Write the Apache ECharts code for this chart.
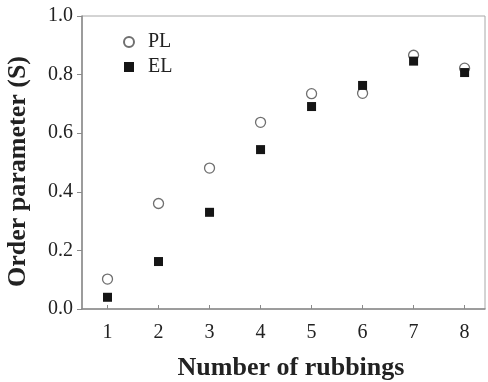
<!DOCTYPE html>
<html>
<head>
<meta charset="utf-8">
<script src="https://cdn.jsdelivr.net/npm/echarts@6/dist/echarts.min.js"></script>
<style>
  html, body { margin: 0; padding: 0; background: #fff; }
  #chart { width: 488px; height: 382px; }
</style>
</head>
<body>
<div id="chart"></div>
<script>
// Order parameter S versus number of rubbings, photoluminescence (PL) and electroluminescence (EL)
const rubbings = [1, 2, 3, 4, 5, 6, 7, 8];
const plValues = [0.102, 0.36, 0.481, 0.637, 0.735, 0.736, 0.866, 0.822];
const elValues = [0.040, 0.162, 0.330, 0.544, 0.691, 0.763, 0.846, 0.807];
const yTicks = [0, 0.2, 0.4, 0.6, 0.8, 1.0];

const serif = '"Liberation Serif", "Times New Roman", serif';
const axisGray = '#8a8a8a';

const chart = echarts.init(document.getElementById('chart'), null, { renderer: 'canvas' });

chart.setOption({
  animation: false,
  backgroundColor: '#fff',
  grid: {
    left: 82, right: 3, top: 16, bottom: 73,
    outerBoundsMode: 'none',
    containLabel: false,
    show: true, borderColor: '#a8a8a8', borderWidth: 1, backgroundColor: 'transparent'
  },
  legend: {
    orient: 'vertical',
    left: 118, top: 27,
    itemWidth: 10, itemHeight: 10, itemGap: 5,
    textStyle: { fontFamily: serif, fontSize: 20, color: '#222', padding: [0, 0, 0, 9] },
    data: ['PL', 'EL']
  },
  xAxis: {
    type: 'value',
    min: 0.5, max: 8.4,
    name: 'Number of rubbings',
    nameLocation: 'middle',
    nameGap: 46,
    nameTextStyle: { fontFamily: serif, fontSize: 26, fontWeight: 'bold', color: '#222', padding: [0, 0, 0, 15] },
    axisLine: { show: true, lineStyle: { color: axisGray, width: 1.5 } },
    axisTick: { show: true, inside: true, length: 4, customValues: rubbings, lineStyle: { color: axisGray } },
    axisLabel: { customValues: rubbings, margin: 14, fontFamily: serif, fontSize: 20, color: '#222' },
    splitLine: { show: false }
  },
  yAxis: {
    type: 'value',
    min: 0, max: 1, interval: 0.2,
    name: 'Order parameter (S)',
    nameLocation: 'middle',
    nameGap: 51,
    nameTextStyle: { fontFamily: serif, fontSize: 26, fontWeight: 'bold', color: '#222', padding: [0, 18, 0, 0] },
    axisLine: { show: true, lineStyle: { color: axisGray, width: 1.5 } },
    axisTick: { show: true, inside: false, length: 5, lineStyle: { color: axisGray } },
    axisLabel: {
      margin: 9, fontFamily: serif, fontSize: 20, color: '#222',
      formatter: v => yTicks.some(t => Math.abs(t - v) < 1e-9) ? v.toFixed(1) : ''
    },
    splitLine: { show: false }
  },
  series: [
    {
      name: 'PL',
      type: 'scatter',
      symbol: 'circle',
      symbolSize: 10,
      itemStyle: { color: '#fff', borderColor: '#6f6f6f', borderWidth: 1.3, opacity: 1 },
      data: rubbings.map((r, i) => [r, plValues[i]]),
      z: 2
    },
    {
      name: 'EL',
      type: 'scatter',
      symbol: 'rect',
      symbolSize: 9,
      itemStyle: { color: '#151515', opacity: 1 },
      data: rubbings.map((r, i) => [r, elValues[i]]),
      z: 3
    }
  ]
});
</script>
</body>
</html>
